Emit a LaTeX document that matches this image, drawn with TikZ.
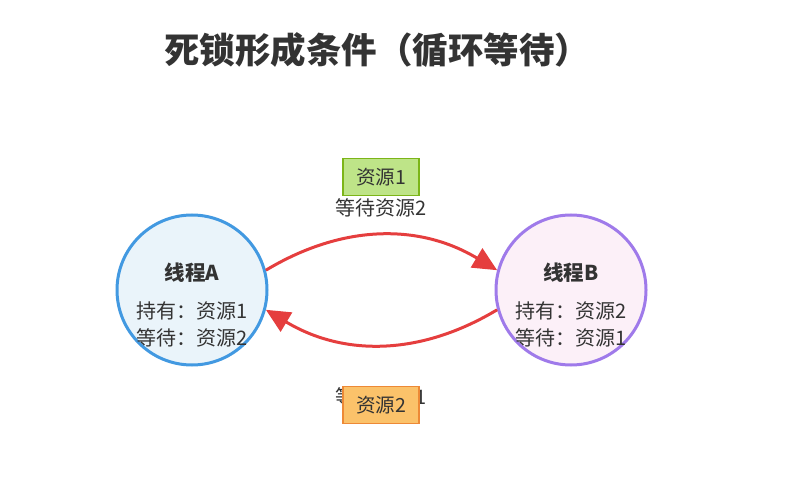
\documentclass[tikz,border=0pt]{standalone}
\usepackage{fontspec}
\setmainfont{Noto Sans CJK SC}
\usetikzlibrary{arrows.meta}
\definecolor{txt}{HTML}{333333}
\definecolor{ablue}{HTML}{4299E1}
\definecolor{afill}{HTML}{EAF4FA}
\definecolor{bpurp}{HTML}{9F7AEA}
\definecolor{bfill}{HTML}{FCF0F8}
\definecolor{ared}{HTML}{E53E3E}
\definecolor{gfill}{HTML}{BEE488}
\definecolor{gline}{HTML}{7CB518}
\definecolor{ofill}{HTML}{FBC26A}
\definecolor{oline}{HTML}{ED8936}
\tikzset{
  thread/.style={circle, minimum size=150pt, inner sep=0pt, line width=3pt, text=txt},
  res/.style={draw, line width=1.5pt, minimum width=76pt, minimum height=37pt, inner sep=0pt, text=txt, font=\fontsize{19.5}{19.5}\selectfont},
  lbl/.style={text=txt, font=\fontsize{20}{20}\selectfont, inner sep=0pt},
  flow/.style={ared, line width=3pt, -{Triangle[length=24pt,width=22pt]}},
  ttl/.style={text=txt, font=\fontsize{35.5}{35.5}\selectfont\bfseries, inner sep=0pt},
  nm/.style={text=txt, font=\fontsize{20.5}{20.5}\selectfont\bfseries, inner sep=0pt},
  ln/.style={text=txt, font=\fontsize{20}{20}\selectfont, inner sep=0pt}
}
\begin{document}
\begin{tikzpicture}[x=1pt,y=-1pt]
\useasboundingbox (0,0) rectangle (786,486);
\node[ttl] (title) at (377,50) {死锁形成条件（循环等待）};
\node[thread, draw=ablue, fill=afill] (A) at (192,290) {};
\node[thread, draw=bpurp, fill=bfill] (B) at (571,290) {};
\node[nm] (An) at (192,273) {线程A};
\node[ln] (A1) at (192,311) {持有：资源1};
\node[ln] (A2) at (192,338) {等待：资源2};
\node[nm] (Bn) at (571,273) {线程B};
\node[ln] (B1) at (571,311) {持有：资源2};
\node[ln] (B2) at (571,338) {等待：资源1};
\draw[flow] (A.15) to[bend left=31] (B.165);
\draw[flow] (B.195) to[bend left=31] (A.-15);
\node[res, fill=gfill, draw=gline] (r1) at (381,177) {资源1};
\node[lbl] (w2) at (381,208) {等待资源2};
\node[lbl] (w1) at (381,397) {等待资源1};
\node[res, fill=ofill, draw=oline] (r2) at (381,405) {资源2};
\end{tikzpicture}
\end{document}
